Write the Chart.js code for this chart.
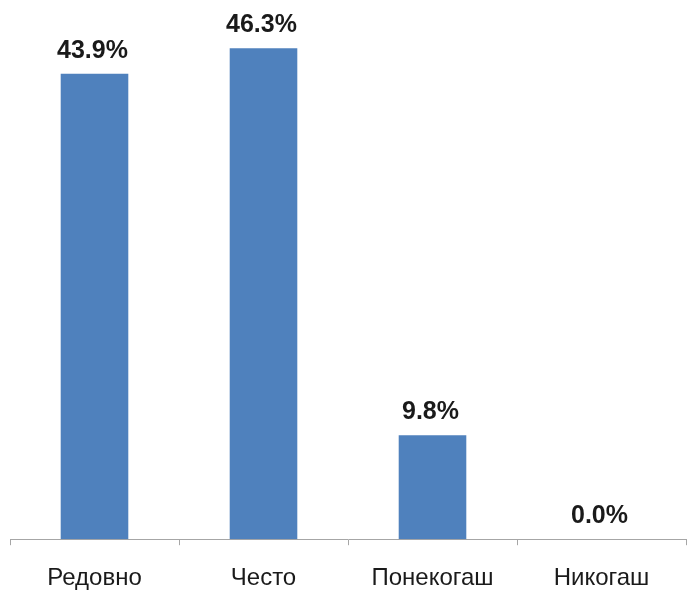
<!DOCTYPE html>
<html>
<head>
<meta charset="utf-8">
<script src="https://cdn.jsdelivr.net/npm/chart.js@4"></script>
<style>
  html, body { margin: 0; padding: 0; background: #fff; }
  #wrap { width: 688px; height: 592px; }
</style>
</head>
<body>
<div id="wrap"><canvas id="myChart"></canvas></div>
<script>
const labels = ["Редовно", "Често", "Понекогаш", "Никогаш"];
const values = [43.9, 46.3, 9.8, 0.0];

// percent labels above each bar
const valueLabels = {
  id: "valueLabels",
  afterDatasetsDraw(chart) {
    const ctx = chart.ctx;
    const meta = chart.getDatasetMeta(0);
    ctx.save();
    ctx.font = "bold 25px 'Liberation Sans', Arial, sans-serif";
    ctx.fillStyle = "#1a1a1a";
    ctx.textAlign = "center";
    ctx.textBaseline = "alphabetic";
    meta.data.forEach((bar, i) => {
      ctx.fillText(values[i].toFixed(1) + "%", bar.x - 2, bar.y - 16);
    });
    ctx.restore();
  },
};

const config = {
  type: "bar",
  data: {
    labels: labels,
    datasets: [
      {
        data: values,
        backgroundColor: "#4F81BD",
        categoryPercentage: 1,
        barPercentage: 0.4,
      },
    ],
  },
  options: {
    responsive: true,
    maintainAspectRatio: false,
    animation: false,
    layout: { padding: { left: 10, right: 2, top: 9, bottom: -20 } },
    plugins: { legend: { display: false }, tooltip: { enabled: false } },
    scales: {
      y: { display: false, min: 0, max: 50 },
      x: {
        border: { color: "#a6a6a6", width: 1 },
        grid: {
          offset: true,
          drawOnChartArea: false,
          drawTicks: true,
          tickLength: 6,
          color: "#a6a6a6",
        },
        ticks: {
          padding: 19,
          color: "#1a1a1a",
          font: { family: "'Liberation Sans', Arial, sans-serif", size: 24 },
        },
      },
    },
  },
  plugins: [valueLabels],
};

new Chart(document.getElementById("myChart"), config);
</script>
</body>
</html>
